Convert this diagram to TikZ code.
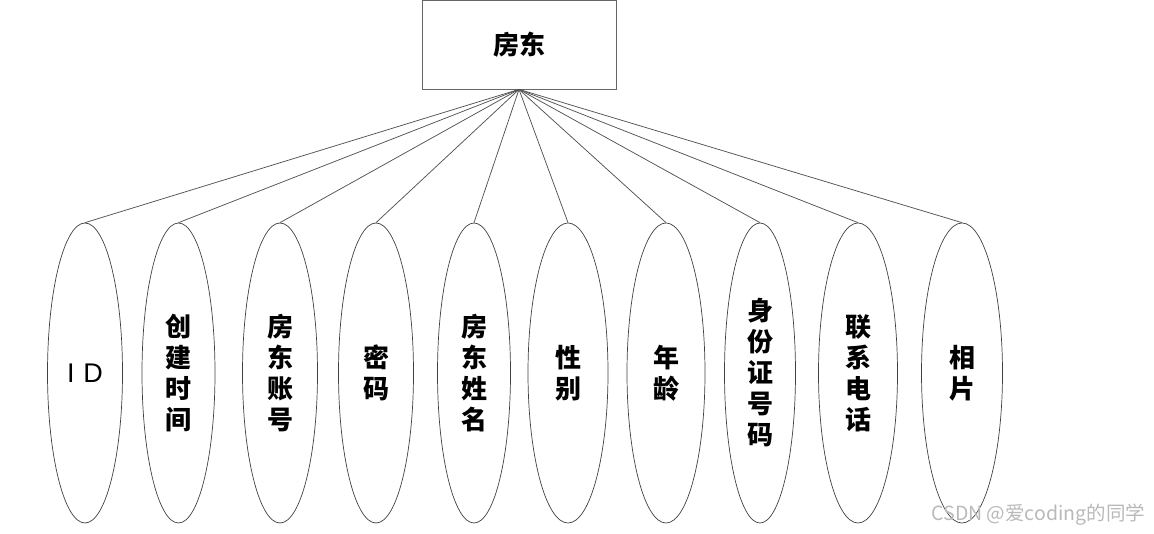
\documentclass[tikz,border=0pt]{standalone}
\usepackage{fontspec}
\usetikzlibrary{shapes.geometric}
\setmainfont{Liberation Sans}
\newfontfamily\cjk{Noto Sans CJK SC}
\begin{document}
\begin{tikzpicture}[x=1pt,y=-1pt,
  entbox/.style={draw=gray!80!black, line width=0.8pt, minimum width=194pt, minimum height=89pt, inner sep=0pt,
    font=\cjk\bfseries\fontsize{26}{31}\selectfont},
  attr/.style={ellipse, draw=gray!50!black, line width=0.7pt, minimum width=75pt, minimum height=300pt, inner sep=0pt,
    align=center, font=\cjk\bfseries\fontsize{26}{31}\selectfont},
  link/.style={draw=gray!65!black, line width=0.75pt},
  wmark/.style={text=gray!55, font=\cjk\fontsize{19.5}{21}\selectfont}
]
\useasboundingbox (0,0) rectangle (1154,534);
\node[entbox] (ent) at (519,44.5) {房东};
\node[attr] (a1) at (85,373) {\normalfont\fontsize{27}{31}\selectfont I\,\,D};
\node[attr, minimum width=73pt] (a2) at (178.5,373) {创\\建\\时\\间};
\node[attr] (a3) at (280,373) {房\\东\\账\\号};
\node[attr] (a4) at (376,373) {密\\码};
\node[attr, minimum width=73pt] (a5) at (474,373) {房\\东\\姓\\名};
\node[attr, minimum width=80pt] (a6) at (568,373) {性\\别};
\node[attr, minimum width=78pt] (a7) at (666,373) {年\\龄};
\node[attr, minimum width=71pt] (a8) at (760,373) {身\\份\\证\\号\\码};
\node[attr, minimum width=79pt] (a9) at (858,373) {联\\系\\电\\话};
\node[attr, minimum width=81pt] (a10) at (962,373) {相\\片};
\foreach \i in {1,...,10} { \draw[link] (ent.south) -- (a\i.north); }
\node[wmark, anchor=west] (wm) at (928,515) {CSDN @爱coding的同学};
\end{tikzpicture}
\end{document}
